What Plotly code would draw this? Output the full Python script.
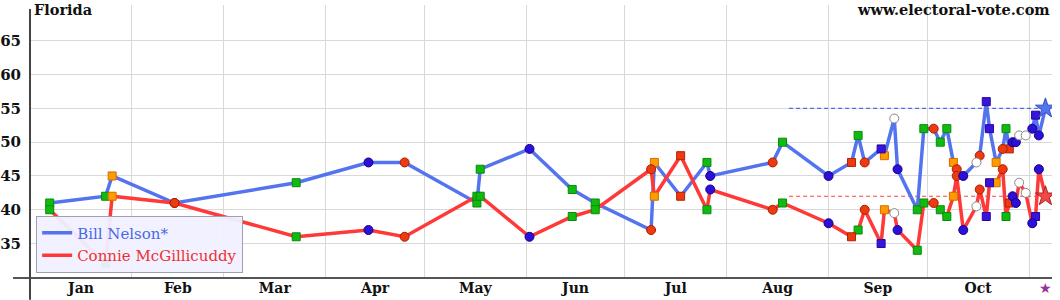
import plotly.graph_objects as go

# ---- data ----
dates = ["2018-01-07", "2018-01-24", "2018-01-26", "2018-02-14", "2018-03-23",
         "2018-04-14", "2018-04-25", "2018-05-17", "2018-05-18", "2018-06-02",
         "2018-06-15", "2018-06-22", "2018-07-09", "2018-07-10", "2018-07-18",
         "2018-07-26", "2018-07-27", "2018-08-15", "2018-08-18", "2018-09-01",
         "2018-09-08", "2018-09-10", "2018-09-12", "2018-09-17", "2018-09-18",
         "2018-09-21", "2018-09-22", "2018-09-28", "2018-09-30", "2018-10-03",
         "2018-10-05", "2018-10-07", "2018-10-09", "2018-10-10", "2018-10-12",
         "2018-10-16", "2018-10-17", "2018-10-19", "2018-10-20", "2018-10-22",
         "2018-10-24", "2018-10-25", "2018-10-26", "2018-10-27", "2018-10-28",
         "2018-10-29", "2018-10-31", "2018-11-02", "2018-11-03", "2018-11-04"]
nelson = [41, 42, 45, 41, 44, 47, 47, 41, 46, 49,
          43, 41, 37, 47, 42, 47, 45, 47, 50, 45,
          47, 51, 47, 49, 48, 53.5, 46, 40, 52, 52,
          50, 52, 47, 46, 45, 47, 48, 56, 52, 47,
          49, 52, 49, 50, 50, 51, 51, 52, 54, 51]
mcgillicuddy = [40, 32, 42, 41, 36, 37, 36, 42, 42, 36,
                39, 40, 46, 42, 48, 40, 43, 40, 41, 38,
                36, 37, 40, 35, 40, 39.5, 37, 34, 41, 41,
                40, 39, 42, 45, 37, 40.5, 43, 39, 44, 44,
                46, 39, 41, 42, 41, 44, 42.5, 38, 39, 46]
# pollster marker kinds
kinds = ["gs", "gs", "os", "rc", "gs", "bc", "rc", "gs", "gs", "bc",
         "gs", "gs", "rc", "os", "rs", "gs", "bc", "rc", "gs", "bc",
         "rs", "gs", "rc", "bs", "os", "oc", "bc", "gs", "gs", "rc",
         "gs", "gs", "os", "rc", "bc", "oc", "rc", "bs", "bs", "os",
         "rc", "gs", "rs", "bc", "bc", "oc", "oc", "bc", "bs", "bc"]

election_day = "2018-11-06"
final_nelson = 55
final_mcg = 42
avg_start = "2018-08-20"

month_starts = ["2018-01-01", "2018-02-01", "2018-03-01", "2018-04-01", "2018-05-01",
                "2018-06-01", "2018-07-01", "2018-08-01", "2018-09-01", "2018-10-01",
                "2018-11-01"]
month_mids = ["2018-01-16 12:00", "2018-02-15", "2018-03-16 12:00", "2018-04-16",
              "2018-05-16 12:00", "2018-06-16", "2018-07-16 12:00", "2018-08-16 12:00",
              "2018-09-16", "2018-10-16 12:00"]
month_labels = ["Jan", "Feb", "Mar", "Apr", "May", "Jun", "Jul", "Aug", "Sep", "Oct"]
y_ticks = [35, 40, 45, 50, 55, 60, 65]

BLUE = "#5473ee"
RED = "#ff3838"

styles = {
    "gs": dict(symbol="square", size=8, color="#10bb10", line=dict(color="#0a8a0a", width=1)),
    "os": dict(symbol="square", size=8, color="#ff9a00", line=dict(color="#d07000", width=1)),
    "bs": dict(symbol="square", size=8, color="#3a14dc", line=dict(color="#22089a", width=1)),
    "rs": dict(symbol="square", size=8, color="#ee3a10", line=dict(color="#b02200", width=1)),
    "rc": dict(symbol="circle", size=9, color="#ee3a10", line=dict(color="#a82000", width=1)),
    "bc": dict(symbol="circle", size=9, color="#2a10d8", line=dict(color="#180088", width=1)),
    "oc": dict(symbol="circle", size=9, color="white", line=dict(color="#888888", width=1)),
}

fig = go.Figure()

# dashed average lines
fig.add_trace(go.Scatter(x=[avg_start, election_day], y=[final_nelson, final_nelson],
                         mode="lines", line=dict(color="#4a6cf5", width=1.2, dash="4px,3px"),
                         showlegend=False, hoverinfo="skip"))
fig.add_trace(go.Scatter(x=[avg_start, election_day], y=[final_mcg, final_mcg],
                         mode="lines", line=dict(color="#ff4040", width=1.2, dash="4px,3px"),
                         showlegend=False, hoverinfo="skip"))

serif = "DejaVu Serif"

# candidate lines
fig.add_trace(go.Scatter(x=dates + [election_day], y=nelson + [final_nelson],
                         mode="lines", line=dict(color=BLUE, width=3.5),
                         name="<span style='color:#4a68e8'>Bill Nelson*</span>"))
fig.add_trace(go.Scatter(x=dates + [election_day], y=mcgillicuddy + [final_mcg],
                         mode="lines", line=dict(color=RED, width=3.5),
                         name="<span style='color:#f03030'>Connie McGillicuddy</span>"))

# poll markers
for k, st in styles.items():
    xs, ys = [], []
    for d, n, m, kk in zip(dates, nelson, mcgillicuddy, kinds):
        if kk == k:
            xs += [d, d]
            ys += [n, m]
    fig.add_trace(go.Scatter(x=xs, y=ys, mode="markers", marker=st,
                             showlegend=False, hoverinfo="skip"))

# final stars
fig.add_trace(go.Scatter(x=[election_day], y=[final_nelson], mode="markers",
                         marker=dict(symbol="star", size=15, color=BLUE,
                                     line=dict(color="#3050c0", width=1)),
                         showlegend=False, hoverinfo="skip"))
fig.add_trace(go.Scatter(x=[election_day], y=[final_mcg], mode="markers",
                         marker=dict(symbol="star", size=15, color="#f04848",
                                     line=dict(color="#b02020", width=1)),
                         showlegend=False, hoverinfo="skip"))

fig.update_layout(
    width=1060, height=300,
    margin=dict(l=30, r=8, t=5, b=22, autoexpand=False),
    paper_bgcolor="white", plot_bgcolor="white",
    showlegend=True,
    legend=dict(x=0.006, y=0.02, xanchor="left", yanchor="bottom",
                bgcolor="rgba(240,240,255,0.95)", bordercolor="#a0a0b0", borderwidth=1,
                font=dict(family=serif, size=15), tracegroupgap=0,
                itemwidth=30),
    xaxis=dict(type="date", range=["2018-01-01", "2018-11-08"],
               tickvals=month_mids, ticktext=month_labels,
               showgrid=False, automargin=False,
               minor=dict(tickvals=month_starts, showgrid=True, gridcolor="#d9d9d9",
                          gridwidth=1, ticks=""),
               showline=False, zeroline=False, ticks="",
               tickfont=dict(family=serif, size=14, color="#111", weight="bold"),
               fixedrange=True),
    yaxis=dict(range=[29.9, 70.3], tickvals=y_ticks,
               showgrid=True, gridcolor="#d9d9d9", gridwidth=1,
               showline=False, zeroline=False, ticks="", automargin=False,
               ticklabelstandoff=8,
               tickfont=dict(family=serif, size=15, color="#111", weight="bold"),
               fixedrange=True),
    shapes=[
        dict(type="line", xref="paper", yref="paper", x0=-0.0166, x1=1.0, y0=0, y1=0,
             line=dict(color="#555555", width=2)),
        dict(type="line", xref="paper", yref="paper", x0=0, x1=0, y0=-0.08, y1=0.985,
             line=dict(color="#444444", width=2)),
    ],
    annotations=[
        dict(text="Florida", xref="paper", yref="paper", x=0.002, y=0.982,
             xanchor="left", yanchor="middle", showarrow=False,
             font=dict(family=serif, size=14.5, color="#111", weight="bold")),
        dict(text="www.electoral-vote.com", xref="paper", yref="paper", x=1.0, y=0.982,
             xanchor="right", yanchor="middle", showarrow=False,
             font=dict(family=serif, size=14.5, color="#111", weight="bold")),
        dict(text="★", xref="x", yref="paper", x=election_day, y=-0.037,
             xanchor="center", yanchor="middle", showarrow=False,
             font=dict(family=serif, size=14, color="#993399")),
    ],
)

fig.write_html("out.html")
